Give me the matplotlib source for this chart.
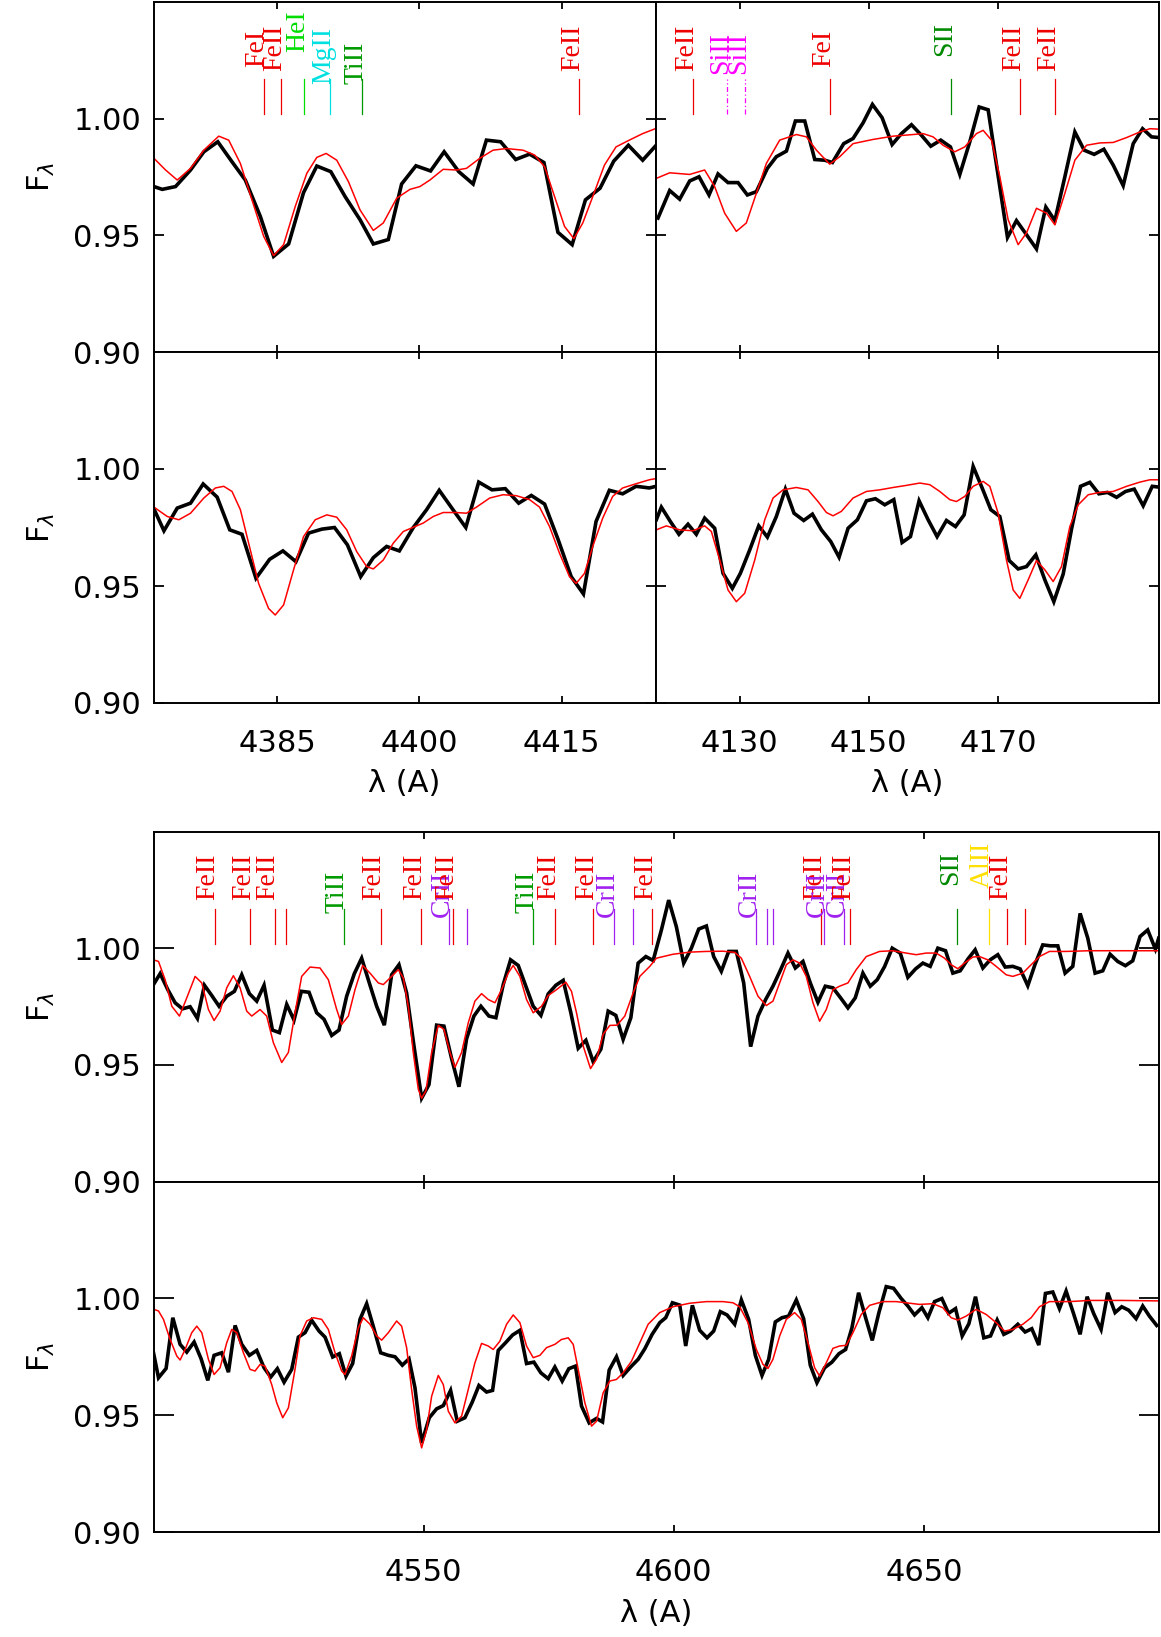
import matplotlib.pyplot as plt

# ---------------- 4372-4425 A window ----------------
wl_4400_obs1 = [4372.05, 4372.92, 4374.32, 4375.90, 4377.30, 4378.77, 4380.27, 4381.67, 4383.25, 4384.65,
                4386.23, 4387.80, 4389.20, 4390.67, 4392.18, 4393.75, 4395.15, 4396.73, 4398.13, 4399.64,
                4401.18, 4402.61, 4404.15, 4405.66, 4407.06, 4408.56, 4410.14, 4411.61, 4413.12, 4414.59,
                4416.09, 4417.49, 4419.03, 4420.47, 4422.01, 4423.52, 4424.85]
fl_4400_obs1 = [0.9709, 0.9697, 0.9709, 0.9780, 0.9858, 0.9901, 0.9815, 0.9737, 0.9581, 0.9410,
                0.9463, 0.9683, 0.9797, 0.9773, 0.9666, 0.9567, 0.9463, 0.9482, 0.9720, 0.9798,
                0.9776, 0.9858, 0.9773, 0.9720, 0.9908, 0.9901, 0.9825, 0.9848, 0.9812, 0.9513,
                0.9460, 0.9652, 0.9702, 0.9818, 0.9886, 0.9822, 0.9882]
wl_4400_mod1 = [4372.05, 4373.27, 4374.50, 4375.90, 4377.30, 4378.87, 4379.92, 4381.15, 4382.37, 4383.60,
                4384.65, 4385.70, 4386.93, 4388.15, 4389.20, 4390.18, 4391.30, 4392.53, 4393.75, 4395.15,
                4396.20, 4397.61, 4399.01, 4400.06, 4401.11, 4402.51, 4403.91, 4404.96, 4406.36, 4407.76,
                4409.16, 4410.91, 4412.14, 4413.19, 4414.24, 4415.29, 4416.27, 4417.21, 4418.26, 4419.49,
                4420.71, 4422.11, 4423.52, 4424.85]
fl_4400_mod1 = [0.9830, 0.9780, 0.9737, 0.9787, 0.9865, 0.9925, 0.9908, 0.9808, 0.9652, 0.9496,
                0.9413, 0.9460, 0.9624, 0.9766, 0.9834, 0.9851, 0.9822, 0.9730, 0.9609, 0.9521,
                0.9553, 0.9659, 0.9697, 0.9709, 0.9737, 0.9783, 0.9780, 0.9787, 0.9830, 0.9865,
                0.9872, 0.9865, 0.9844, 0.9794, 0.9666, 0.9538, 0.9486, 0.9553, 0.9666, 0.9801,
                0.9879, 0.9908, 0.9936, 0.9957]

wl_4400_obs2 = [4372.05, 4373.10, 4374.50, 4375.90, 4377.23, 4378.70, 4380.03, 4381.32, 4382.79, 4384.23,
                4385.63, 4387.00, 4388.33, 4389.73, 4391.06, 4392.42, 4393.82, 4395.15, 4396.55, 4397.89,
                4399.36, 4400.76, 4402.09, 4403.49, 4404.89, 4406.25, 4407.65, 4409.05, 4410.46, 4411.79,
                4413.19, 4414.59, 4415.99, 4417.28, 4418.61, 4420.01, 4421.41, 4422.82, 4424.22, 4424.92]
fl_4400_obs2 = [0.9829, 0.9736, 0.9833, 0.9854, 0.9936, 0.9880, 0.9740, 0.9721, 0.9533, 0.9614,
                0.9650, 0.9604, 0.9726, 0.9743, 0.9750, 0.9676, 0.9540, 0.9621, 0.9669, 0.9650,
                0.9750, 0.9826, 0.9909, 0.9829, 0.9750, 0.9944, 0.9911, 0.9916, 0.9854, 0.9887,
                0.9850, 0.9701, 0.9540, 0.9466, 0.9776, 0.9909, 0.9894, 0.9926, 0.9919, 0.9926]
wl_4400_mod2 = [4372.05, 4373.45, 4374.67, 4375.90, 4377.30, 4378.52, 4379.40, 4380.27, 4381.15, 4382.02,
                4383.07, 4384.12, 4384.82, 4385.70, 4386.75, 4387.80, 4389.03, 4390.25, 4391.30, 4392.35,
                4393.40, 4394.45, 4395.15, 4396.20, 4397.25, 4398.31, 4399.36, 4400.41, 4401.46, 4402.51,
                4403.91, 4404.96, 4406.01, 4407.41, 4408.81, 4410.21, 4411.61, 4412.66, 4413.71, 4414.76,
                4415.81, 4416.51, 4417.39, 4418.26, 4419.31, 4420.36, 4421.41, 4422.82, 4424.22, 4424.92]
fl_4400_mod2 = [0.9837, 0.9797, 0.9783, 0.9811, 0.9876, 0.9919, 0.9926, 0.9904, 0.9826, 0.9683,
                0.9511, 0.9404, 0.9376, 0.9419, 0.9569, 0.9711, 0.9783, 0.9804, 0.9794, 0.9740,
                0.9647, 0.9583, 0.9573, 0.9611, 0.9683, 0.9733, 0.9751, 0.9769, 0.9797, 0.9814,
                0.9814, 0.9811, 0.9837, 0.9876, 0.9890, 0.9886, 0.9869, 0.9837, 0.9754, 0.9640,
                0.9540, 0.9511, 0.9554, 0.9669, 0.9790, 0.9883, 0.9919, 0.9937, 0.9954, 0.9959]

ion_4400 = ['FeI', 'FeII', 'HeI', 'MgII', 'TiII', 'FeII']
line_4400 = [4383.6, 4385.4, 4387.9, 4390.6, 4394.0, 4416.8]
ticks_4400 = [4385, 4400, 4415]

# ---------------- 4117-4195 A window ----------------
wl_4150_obs1 = [4117.34, 4119.15, 4120.70, 4122.25, 4123.70, 4125.25, 4126.64, 4128.19, 4129.74, 4131.19,
                4132.58, 4134.29, 4135.68, 4137.24, 4138.63, 4140.08, 4141.63, 4143.18, 4144.37, 4146.12,
                4147.57, 4149.12, 4150.57, 4152.07, 4153.62, 4155.06, 4156.62, 4158.16, 4159.61, 4161.16,
                4162.66, 4164.11, 4165.66, 4167.11, 4168.50, 4171.50, 4172.89, 4174.44, 4175.99, 4177.44,
                4178.84, 4180.39, 4181.94, 4183.38, 4184.93, 4186.43, 4187.88, 4189.43, 4190.98, 4192.43,
                4193.82, 4195.01]
fl_4150_obs1 = [0.9574, 0.9692, 0.9655, 0.9733, 0.9751, 0.9673, 0.9763, 0.9726, 0.9726, 0.9673,
                0.9687, 0.9787, 0.9837, 0.9861, 0.9990, 0.9990, 0.9825, 0.9822, 0.9812, 0.9893,
                0.9915, 0.9982, 1.0061, 1.0004, 0.9889, 0.9936, 0.9974, 0.9929, 0.9882, 0.9908,
                0.9879, 0.9761, 0.9901, 1.0050, 1.0038, 0.9491, 0.9563, 0.9503, 0.9442, 0.9621,
                0.9563, 0.9751, 0.9943, 0.9865, 0.9847, 0.9869, 0.9801, 0.9713, 0.9893, 0.9957,
                0.9922, 0.9919]
wl_4150_mod1 = [4117.08, 4119.15, 4122.25, 4124.57, 4126.12, 4127.67, 4129.48, 4131.03, 4132.58, 4134.13,
                4136.20, 4138.79, 4140.34, 4141.89, 4143.95, 4145.50, 4147.57, 4150.67, 4153.77, 4156.87,
                4158.42, 4159.97, 4161.52, 4163.33, 4164.88, 4166.69, 4167.73, 4169.02, 4170.31, 4171.60,
                4173.15, 4174.44, 4175.99, 4177.55, 4178.84, 4180.39, 4181.94, 4183.75, 4185.81, 4187.88,
                4189.95, 4192.02, 4193.57, 4195.01]
fl_4150_mod1 = [0.9744, 0.9768, 0.9761, 0.9780, 0.9709, 0.9595, 0.9517, 0.9553, 0.9680, 0.9808,
                0.9908, 0.9932, 0.9922, 0.9865, 0.9805, 0.9837, 0.9893, 0.9911, 0.9925, 0.9932,
                0.9936, 0.9922, 0.9886, 0.9858, 0.9879, 0.9936, 0.9950, 0.9908, 0.9751, 0.9567,
                0.9460, 0.9510, 0.9616, 0.9595, 0.9545, 0.9680, 0.9822, 0.9886, 0.9896, 0.9898,
                0.9919, 0.9943, 0.9957, 0.9955]

wl_4150_obs2 = [4117.08, 4117.86, 4119.25, 4120.59, 4121.99, 4123.28, 4124.57, 4126.12, 4127.42, 4128.86,
                4130.10, 4131.55, 4132.95, 4134.29, 4135.68, 4137.08, 4138.42, 4139.92, 4141.27, 4142.66,
                4144.11, 4145.40, 4146.80, 4148.24, 4149.64, 4151.03, 4152.48, 4153.88, 4155.17, 4156.46,
                4157.80, 4159.20, 4160.59, 4162.04, 4163.44, 4164.78, 4166.18, 4167.57, 4168.92, 4170.31,
                4171.76, 4173.15, 4174.44, 4175.89, 4177.29, 4178.68, 4180.13, 4181.42, 4182.82, 4184.26,
                4185.66, 4187.00, 4188.40, 4189.79, 4191.14, 4192.53, 4193.93, 4194.86]
fl_4150_obs2 = [0.9783, 0.9837, 0.9776, 0.9721, 0.9764, 0.9721, 0.9790, 0.9747, 0.9554, 0.9490,
                0.9554, 0.9654, 0.9757, 0.9709, 0.9797, 0.9914, 0.9811, 0.9780, 0.9807, 0.9740,
                0.9690, 0.9623, 0.9747, 0.9783, 0.9864, 0.9873, 0.9847, 0.9869, 0.9686, 0.9711,
                0.9864, 0.9783, 0.9711, 0.9780, 0.9754, 0.9804, 1.0011, 0.9919, 0.9826, 0.9797,
                0.9609, 0.9573, 0.9583, 0.9633, 0.9526, 0.9433, 0.9551, 0.9743, 0.9926, 0.9943,
                0.9894, 0.9900, 0.9879, 0.9904, 0.9914, 0.9843, 0.9926, 0.9923]
wl_4150_mod2 = [4117.08, 4118.63, 4120.70, 4122.76, 4124.57, 4125.61, 4126.90, 4128.19, 4129.48, 4130.78,
                4132.33, 4133.88, 4135.17, 4136.72, 4138.79, 4140.59, 4142.14, 4143.44, 4144.47, 4145.76,
                4147.57, 4149.64, 4151.71, 4153.77, 4155.84, 4157.91, 4159.46, 4161.01, 4162.56, 4163.59,
                4164.88, 4166.18, 4167.73, 4168.76, 4170.05, 4171.34, 4172.38, 4173.41, 4174.70, 4175.99,
                4177.29, 4178.58, 4179.87, 4181.16, 4182.46, 4184.01, 4185.81, 4187.88, 4189.95, 4192.02,
                4193.57, 4194.86]
fl_4150_mod2 = [0.9740, 0.9757, 0.9740, 0.9736, 0.9757, 0.9733, 0.9611, 0.9483, 0.9433, 0.9469,
                0.9611, 0.9783, 0.9876, 0.9911, 0.9921, 0.9911, 0.9861, 0.9814, 0.9800, 0.9819,
                0.9876, 0.9904, 0.9911, 0.9921, 0.9930, 0.9940, 0.9933, 0.9904, 0.9869, 0.9861,
                0.9883, 0.9926, 0.9947, 0.9926, 0.9811, 0.9611, 0.9483, 0.9447, 0.9526, 0.9609,
                0.9569, 0.9519, 0.9583, 0.9754, 0.9847, 0.9890, 0.9900, 0.9904, 0.9926, 0.9944,
                0.9954, 0.9954]

ion_4150 = ['FeII', 'SiII', 'SiII', 'FeI', 'SII', 'FeII', 'FeII']
line_4150 = [4122.8, 4128.1, 4130.9, 4144.0, 4162.8, 4173.5, 4178.9]
ticks_4150 = [4130, 4150, 4170]

# ---------------- 4496-4697 A window ----------------
wl_4600_obs1 = [4496.00, 4497.33, 4498.86, 4500.32, 4501.79, 4503.32, 4504.78, 4506.18, 4507.65, 4509.11,
                4510.64, 4512.17, 4513.64, 4515.17, 4516.64, 4518.10, 4519.77, 4521.16, 4522.63, 4524.09,
                4525.56, 4527.09, 4528.62, 4530.09, 4531.62, 4533.08, 4534.61, 4536.15, 4537.61, 4539.14,
                4540.61, 4542.14, 4543.60, 4545.07, 4546.60, 4548.07, 4549.60, 4551.06, 4552.59, 4554.06,
                4555.59, 4557.06, 4558.59, 4560.05, 4561.45, 4563.05, 4564.45, 4565.91, 4567.38, 4568.91,
                4570.44, 4571.90, 4573.44, 4574.90, 4576.43, 4577.90, 4579.43, 4580.90, 4582.43, 4583.89,
                4585.43, 4586.89, 4588.42, 4589.88, 4591.42, 4592.88, 4594.42, 4595.88, 4597.53, 4598.99,
                4600.52, 4601.99, 4603.52, 4604.99, 4606.52, 4607.98, 4609.51, 4610.98, 4612.51, 4613.98,
                4615.37, 4616.84, 4618.37, 4619.83, 4621.37, 4622.83, 4624.30, 4625.83, 4627.29, 4628.82,
                4630.29, 4631.82, 4633.35, 4634.82, 4636.28, 4637.81, 4639.28, 4640.68, 4642.14, 4643.67,
                4645.27, 4646.80, 4648.33, 4649.80, 4651.26, 4652.79, 4654.33, 4655.79, 4657.26, 4658.79,
                4660.25, 4661.79, 4663.25, 4664.78, 4666.25, 4667.78, 4669.24, 4670.77, 4672.24, 4673.77,
                4675.30, 4676.77, 4678.23, 4679.76, 4681.23, 4682.76, 4684.23, 4685.76, 4687.22, 4688.75,
                4690.28, 4691.75, 4693.21, 4694.74, 4696.28, 4696.94]
fl_4600_obs1 = [0.9844, 0.9891, 0.9822, 0.9766, 0.9740, 0.9749, 0.9699, 0.9841, 0.9797, 0.9751,
                0.9794, 0.9815, 0.9886, 0.9805, 0.9773, 0.9841, 0.9649, 0.9638, 0.9759, 0.9692,
                0.9815, 0.9811, 0.9723, 0.9695, 0.9626, 0.9649, 0.9794, 0.9891, 0.9957, 0.9851,
                0.9751, 0.9670, 0.9886, 0.9929, 0.9808, 0.9581, 0.9357, 0.9415, 0.9670, 0.9666,
                0.9527, 0.9406, 0.9612, 0.9709, 0.9751, 0.9709, 0.9702, 0.9844, 0.9950, 0.9926,
                0.9837, 0.9751, 0.9712, 0.9804, 0.9841, 0.9862, 0.9723, 0.9571, 0.9605, 0.9513,
                0.9567, 0.9730, 0.9712, 0.9609, 0.9702, 0.9936, 0.9964, 0.9947, 1.0078, 1.0206,
                1.0092, 0.9936, 1.0000, 1.0082, 1.0095, 0.9964, 0.9901, 0.9986, 0.9986, 0.9851,
                0.9578, 0.9709, 0.9780, 0.9837, 0.9908, 0.9979, 0.9915, 0.9943, 0.9851, 0.9768,
                0.9837, 0.9830, 0.9787, 0.9744, 0.9787, 0.9893, 0.9837, 0.9865, 0.9921, 1.0000,
                0.9979, 0.9875, 0.9911, 0.9936, 0.9922, 1.0000, 0.9989, 0.9893, 0.9903, 0.9953,
                0.9993, 0.9915, 0.9950, 0.9972, 0.9919, 0.9922, 0.9911, 0.9839, 0.9932, 1.0014,
                1.0010, 1.0010, 0.9893, 0.9922, 1.0149, 1.0043, 0.9893, 0.9903, 0.9974, 0.9943,
                0.9925, 0.9946, 1.0050, 1.0078, 0.9996, 1.0043]
wl_4600_mod1 = [4496.00, 4497.00, 4498.32, 4499.66, 4501.19, 4502.65, 4504.32, 4505.65, 4506.98, 4508.11,
                4509.31, 4510.64, 4511.97, 4513.31, 4514.64, 4515.64, 4517.30, 4518.63, 4519.96, 4521.63,
                4522.96, 4524.29, 4525.62, 4527.29, 4529.29, 4530.95, 4532.62, 4533.62, 4534.95, 4536.28,
                4537.81, 4539.28, 4540.94, 4541.94, 4543.60, 4544.94, 4545.94, 4546.93, 4547.93, 4548.93,
                4549.60, 4550.46, 4551.60, 4552.93, 4554.06, 4555.26, 4556.26, 4557.59, 4558.92, 4560.25,
                4561.58, 4562.91, 4564.25, 4565.58, 4566.91, 4567.91, 4569.24, 4570.57, 4571.90, 4573.57,
                4574.90, 4576.56, 4578.43, 4579.56, 4580.56, 4581.89, 4583.36, 4584.56, 4585.89, 4587.22,
                4588.68, 4590.21, 4591.88, 4593.21, 4595.21, 4596.53, 4599.86, 4603.19, 4606.52, 4609.85,
                4612.18, 4613.51, 4615.17, 4616.84, 4618.50, 4619.83, 4621.17, 4622.50, 4623.83, 4625.16,
                4626.49, 4627.83, 4629.16, 4630.49, 4631.82, 4633.15, 4634.82, 4636.48, 4638.48, 4641.14,
                4643.81, 4646.47, 4648.47, 4650.46, 4652.46, 4654.13, 4655.46, 4656.79, 4658.12, 4659.79,
                4661.12, 4662.78, 4664.45, 4666.45, 4667.78, 4669.78, 4671.11, 4673.10, 4675.10, 4678.43,
                4683.09, 4689.75, 4696.94]
fl_4600_mod1 = [0.9950, 0.9943, 0.9865, 0.9751, 0.9709, 0.9787, 0.9879, 0.9851, 0.9737, 0.9690,
                0.9730, 0.9830, 0.9882, 0.9830, 0.9730, 0.9709, 0.9737, 0.9709, 0.9595, 0.9510,
                0.9553, 0.9723, 0.9879, 0.9919, 0.9915, 0.9865, 0.9737, 0.9673, 0.9709, 0.9822,
                0.9926, 0.9893, 0.9851, 0.9844, 0.9879, 0.9908, 0.9872, 0.9751, 0.9553, 0.9396,
                0.9357, 0.9389, 0.9553, 0.9669, 0.9652, 0.9553, 0.9489, 0.9553, 0.9680, 0.9773,
                0.9805, 0.9780, 0.9766, 0.9822, 0.9893, 0.9926, 0.9879, 0.9780, 0.9723, 0.9751,
                0.9797, 0.9822, 0.9854, 0.9815, 0.9723, 0.9581, 0.9484, 0.9524, 0.9631, 0.9669,
                0.9670, 0.9709, 0.9808, 0.9879, 0.9922, 0.9957, 0.9974, 0.9983, 0.9986, 0.9987,
                0.9982, 0.9957, 0.9879, 0.9794, 0.9754, 0.9773, 0.9851, 0.9929, 0.9950, 0.9936,
                0.9879, 0.9766, 0.9687, 0.9737, 0.9822, 0.9837, 0.9851, 0.9908, 0.9964, 0.9986,
                0.9989, 0.9979, 0.9972, 0.9979, 0.9979, 0.9957, 0.9929, 0.9912, 0.9936, 0.9962,
                0.9964, 0.9950, 0.9922, 0.9886, 0.9879, 0.9893, 0.9922, 0.9964, 0.9986, 0.9986,
                0.9989, 0.9989, 0.9989]

wl_4600_obs2 = [4496.00, 4497.00, 4498.52, 4499.86, 4501.32, 4502.65, 4504.12, 4505.52, 4506.85, 4508.11,
                4509.64, 4510.98, 4512.31, 4513.64, 4515.17, 4516.64, 4518.10, 4519.43, 4520.76, 4522.10,
                4523.63, 4524.96, 4526.29, 4527.62, 4529.09, 4530.29, 4531.82, 4533.15, 4534.48, 4535.81,
                4537.28, 4538.61, 4540.07, 4541.41, 4542.94, 4544.27, 4545.74, 4547.07, 4548.27, 4549.60,
                4551.13, 4552.59, 4553.93, 4555.39, 4556.72, 4558.25, 4559.72, 4561.05, 4562.58, 4563.78,
                4564.91, 4566.38, 4567.78, 4569.24, 4570.57, 4572.04, 4573.44, 4574.90, 4576.23, 4577.70,
                4579.03, 4580.36, 4581.56, 4583.09, 4584.56, 4585.76, 4587.09, 4588.55, 4589.88, 4591.42,
                4592.88, 4594.21, 4595.68, 4597.21, 4598.39, 4599.73, 4601.19, 4602.39, 4603.72, 4605.19,
                4606.65, 4607.98, 4609.31, 4610.65, 4612.18, 4613.51, 4614.97, 4616.31, 4617.64, 4618.97,
                4620.30, 4621.63, 4622.96, 4624.50, 4625.96, 4627.29, 4628.62, 4630.16, 4631.62, 4633.02,
                4634.35, 4635.62, 4636.95, 4638.35, 4639.68, 4641.01, 4642.47, 4643.94, 4645.47, 4646.80,
                4648.13, 4649.60, 4650.80, 4652.13, 4653.59, 4654.93, 4656.33, 4657.66, 4658.99, 4660.32,
                4661.98, 4663.32, 4664.65, 4665.98, 4667.31, 4668.78, 4670.24, 4671.57, 4672.97, 4674.30,
                4675.77, 4677.10, 4678.43, 4679.90, 4681.23, 4682.63, 4683.96, 4685.42, 4686.76, 4688.22,
                4689.55, 4690.95, 4692.42, 4693.75, 4695.08, 4696.54]
fl_4600_obs2 = [0.9767, 0.9660, 0.9700, 0.9917, 0.9803, 0.9770, 0.9813, 0.9741, 0.9649, 0.9756,
                0.9767, 0.9684, 0.9884, 0.9803, 0.9756, 0.9777, 0.9703, 0.9663, 0.9699, 0.9641,
                0.9696, 0.9834, 0.9853, 0.9906, 0.9860, 0.9834, 0.9749, 0.9763, 0.9667, 0.9721,
                0.9910, 0.9977, 0.9870, 0.9767, 0.9756, 0.9750, 0.9714, 0.9741, 0.9617, 0.9381,
                0.9489, 0.9527, 0.9541, 0.9606, 0.9474, 0.9489, 0.9556, 0.9627, 0.9599, 0.9606,
                0.9777, 0.9810, 0.9843, 0.9863, 0.9721, 0.9727, 0.9681, 0.9656, 0.9706, 0.9646,
                0.9699, 0.9710, 0.9539, 0.9467, 0.9486, 0.9471, 0.9693, 0.9750, 0.9670, 0.9707,
                0.9739, 0.9784, 0.9846, 0.9896, 0.9917, 0.9981, 0.9971, 0.9796, 0.9970, 0.9863,
                0.9831, 0.9860, 0.9943, 0.9929, 0.9889, 0.9993, 0.9910, 0.9756, 0.9670, 0.9739,
                0.9899, 0.9917, 0.9924, 0.9993, 0.9913, 0.9714, 0.9639, 0.9703, 0.9727, 0.9763,
                0.9781, 0.9874, 1.0024, 0.9917, 0.9820, 0.9939, 1.0050, 1.0043, 0.9999, 0.9967,
                0.9929, 0.9960, 0.9917, 0.9986, 0.9999, 0.9936, 0.9956, 0.9839, 0.9891, 1.0007,
                0.9831, 0.9839, 0.9907, 0.9846, 0.9860, 0.9889, 0.9856, 0.9870, 0.9800, 1.0021,
                1.0027, 0.9956, 1.0031, 0.9936, 0.9846, 1.0007, 0.9934, 0.9867, 1.0024, 0.9939,
                0.9964, 0.9949, 0.9913, 0.9967, 0.9924, 0.9884]
wl_4600_mod2 = [4496.00, 4497.00, 4497.99, 4499.32, 4500.66, 4501.32, 4502.32, 4503.65, 4504.65, 4505.65,
                4506.98, 4508.11, 4509.31, 4510.64, 4511.64, 4512.64, 4513.97, 4515.30, 4516.30, 4517.30,
                4518.30, 4519.63, 4520.63, 4521.83, 4522.96, 4524.29, 4525.29, 4526.62, 4527.96, 4529.62,
                4530.95, 4532.29, 4533.62, 4534.28, 4535.61, 4536.95, 4537.94, 4539.28, 4540.61, 4541.61,
                4542.94, 4544.60, 4545.60, 4546.60, 4547.60, 4548.60, 4549.60, 4550.60, 4551.60, 4552.93,
                4553.93, 4554.93, 4556.26, 4557.59, 4558.92, 4560.25, 4561.58, 4562.91, 4563.91, 4565.25,
                4566.58, 4567.91, 4569.24, 4570.57, 4571.90, 4573.24, 4574.57, 4576.23, 4577.56, 4578.90,
                4579.90, 4580.90, 4582.23, 4583.56, 4584.56, 4585.89, 4587.22, 4588.55, 4589.88, 4591.55,
                4593.21, 4594.88, 4597.20, 4599.86, 4603.19, 4606.52, 4609.85, 4611.84, 4613.18, 4614.84,
                4616.51, 4617.84, 4618.84, 4619.83, 4621.17, 4622.50, 4624.16, 4625.49, 4626.83, 4628.16,
                4629.16, 4630.49, 4631.82, 4633.15, 4634.48, 4635.82, 4637.48, 4639.15, 4641.81, 4644.47,
                4647.14, 4649.13, 4651.80, 4653.79, 4655.46, 4656.79, 4658.45, 4660.45, 4662.45, 4664.45,
                4666.11, 4667.78, 4669.78, 4671.44, 4673.10, 4675.10, 4679.10, 4683.09, 4689.75, 4696.94]
fl_4600_mod2 = [0.9953, 0.9946, 0.9910, 0.9824, 0.9753, 0.9736, 0.9781, 0.9853, 0.9881, 0.9853,
                0.9739, 0.9674, 0.9703, 0.9810, 0.9867, 0.9853, 0.9767, 0.9696, 0.9689, 0.9717,
                0.9710, 0.9631, 0.9553, 0.9489, 0.9531, 0.9696, 0.9839, 0.9903, 0.9917, 0.9910,
                0.9867, 0.9767, 0.9689, 0.9674, 0.9753, 0.9874, 0.9917, 0.9889, 0.9839, 0.9821,
                0.9853, 0.9903, 0.9881, 0.9789, 0.9610, 0.9453, 0.9360, 0.9439, 0.9581, 0.9670,
                0.9631, 0.9517, 0.9467, 0.9496, 0.9610, 0.9724, 0.9807, 0.9796, 0.9781, 0.9817,
                0.9889, 0.9929, 0.9896, 0.9796, 0.9746, 0.9756, 0.9789, 0.9803, 0.9824, 0.9831,
                0.9803, 0.9696, 0.9553, 0.9453, 0.9474, 0.9596, 0.9646, 0.9653, 0.9681, 0.9731,
                0.9810, 0.9889, 0.9939, 0.9964, 0.9979, 0.9986, 0.9986, 0.9981, 0.9964, 0.9896,
                0.9781, 0.9717, 0.9700, 0.9739, 0.9839, 0.9910, 0.9939, 0.9910, 0.9810, 0.9703,
                0.9667, 0.9724, 0.9786, 0.9796, 0.9799, 0.9853, 0.9931, 0.9970, 0.9986, 0.9986,
                0.9979, 0.9974, 0.9977, 0.9960, 0.9917, 0.9907, 0.9924, 0.9953, 0.9931, 0.9896,
                0.9860, 0.9867, 0.9889, 0.9917, 0.9964, 0.9986, 0.9986, 0.9991, 0.9991, 0.9989]

ion_4600 = ['FeII', 'FeII', 'FeII', 'FeII', 'TiII', 'FeII', 'FeII', 'CrII', 'FeII', 'CrII',
            'TiII', 'FeII', 'FeII', 'CrII', 'CrII', 'FeII', 'CrII', 'CrII', 'CrII', 'FeII',
            'CrII', 'CrII', 'FeII', 'SII', 'AlII', 'FeII', 'FeII']
line_4600 = [4508.2, 4515.3, 4520.2, 4522.5, 4534.0, 4541.4, 4549.5, 4555.0, 4555.9, 4558.6,
             4571.9, 4576.3, 4583.8, 4588.1, 4591.9, 4595.7, 4616.5, 4618.7, 4619.8, 4629.4,
             4630.0, 4634.0, 4635.3, 4656.7, 4663.0, 4666.7, 4670.2]
named_4600 = [1, 1, 1, 0, 1, 1, 1, 1, 1, 0,
              1, 1, 1, 1, 0, 1, 1, 0, 0, 1,
              1, 1, 1, 1, 1, 1, 0]
ticks_4600 = [4550, 4600, 4650]

# ion colours and label heights
ion_color = {'FeI': '#ee0000', 'FeII': '#ee0000', 'HeI': '#00dd00', 'MgII': '#00e0e0',
             'TiII': '#009a00', 'SiII': '#ff00ff', 'SII': '#008a00', 'CrII': '#a020f0',
             'AlII': '#ffe000'}
label_y = {'FeI': 1.022, 'FeII': 1.0205, 'HeI': 1.0285, 'MgII': 1.015, 'TiII': 1.015,
           'SiII': 1.019, 'SII': 1.027, 'CrII': 1.0135, 'AlII': 1.026}

FIG_W, FIG_H = 1161, 1637
L, M, R = 153.5, 655.8, 1158.5


def rect(x0, x1, ytop, ybot):
    return [x0 / FIG_W, 1 - ybot / FIG_H, (x1 - x0) / FIG_W, (ybot - ytop) / FIG_H]


def setup(ax, xlim, ticks, ylen, xlabels, ylabels):
    ax.set_xlim(*xlim)
    ax.set_ylim(0.90, 1.05)
    ax.set_xticks(ticks, [str(t) for t in ticks])
    ax.set_yticks([0.90, 0.95, 1.00], ['0.90', '0.95', '1.00'])
    ax.tick_params(direction='in', top=True, right=True, width=1.3, labelsize=22,
                   labelbottom=xlabels, labelleft=ylabels)
    ax.tick_params(axis='x', length=5, pad=19)
    ax.tick_params(axis='y', length=ylen, pad=9)
    for s in ax.spines.values():
        s.set_linewidth(1.4)
    if ylabels:
        ax.set_ylabel(r'F$_\lambda$', fontsize=22, labelpad=12)
    if xlabels:
        ax.set_xlabel('λ (A)', fontsize=22, labelpad=8)


def spectra(ax, wo, fo, wm, fm):
    ax.plot(wo, fo, color='black', lw=2.6, solid_joinstyle='miter')
    ax.plot(wm, fm, color='red', lw=1.1)


def mark_lines(ax, ions, waves, named=None):
    for i, (ion, w) in enumerate(zip(ions, waves)):
        c = ion_color[ion]
        ls = (0, (4, 2, 1, 2)) if ion == 'SiII' else '-'
        ax.plot([w, w], [1.002, 1.017], color=c, lw=0.9, ls=ls)
        if named is None or named[i]:
            ax.text(w, label_y[ion], ion, color=c, rotation=90, rotation_mode='anchor',
                    ha='left', va='baseline', fontsize=20, family='Liberation Serif')


fig = plt.figure(figsize=(FIG_W / 100, FIG_H / 100), dpi=100)

ax1 = fig.add_axes(rect(L, M, 2, 352))
ax2 = fig.add_axes(rect(L, M, 352, 703))
ax3 = fig.add_axes(rect(M, R, 2, 352))
ax4 = fig.add_axes(rect(M, R, 352, 703))
ax5 = fig.add_axes(rect(L, R, 831.5, 1181.5))
ax6 = fig.add_axes(rect(L, R, 1181.5, 1532))

xl_4400 = (4372.0, 4424.9)
xl_4150 = (4117.0, 4194.9)
xl_4600 = (4496.0, 4696.9)

spectra(ax1, wl_4400_obs1, fl_4400_obs1, wl_4400_mod1, fl_4400_mod1)
mark_lines(ax1, ion_4400, line_4400)
setup(ax1, xl_4400, ticks_4400, 7.2, False, True)

spectra(ax2, wl_4400_obs2, fl_4400_obs2, wl_4400_mod2, fl_4400_mod2)
setup(ax2, xl_4400, ticks_4400, 7.2, True, True)

spectra(ax3, wl_4150_obs1, fl_4150_obs1, wl_4150_mod1, fl_4150_mod1)
mark_lines(ax3, ion_4150, line_4150)
setup(ax3, xl_4150, ticks_4150, 7.2, False, False)

spectra(ax4, wl_4150_obs2, fl_4150_obs2, wl_4150_mod2, fl_4150_mod2)
setup(ax4, xl_4150, ticks_4150, 7.2, True, False)

spectra(ax5, wl_4600_obs1, fl_4600_obs1, wl_4600_mod1, fl_4600_mod1)
mark_lines(ax5, ion_4600, line_4600, named_4600)
setup(ax5, xl_4600, ticks_4600, 14.4, False, True)

spectra(ax6, wl_4600_obs2, fl_4600_obs2, wl_4600_mod2, fl_4600_mod2)
setup(ax6, xl_4600, ticks_4600, 14.4, True, True)

fig.savefig('out.png', dpi=100)
